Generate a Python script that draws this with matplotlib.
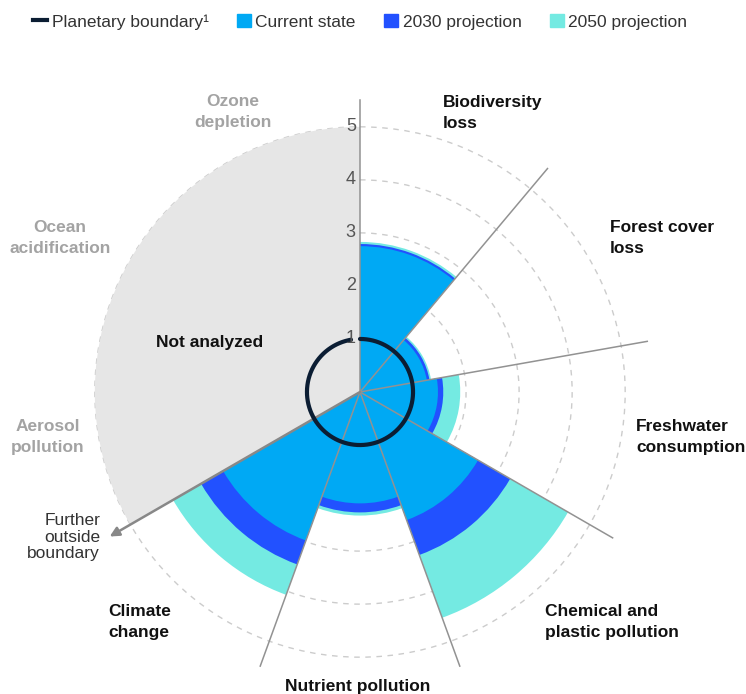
import numpy as np
import matplotlib as mpl
mpl.use('Agg')
import matplotlib.pyplot as plt
from matplotlib.lines import Line2D
from matplotlib.patches import Patch

plt.rcParams['font.family'] = ['Liberation Sans', 'DejaVu Sans']

# boundaries analyzed, clockwise from the top
boundaries = ['Biodiversity loss', 'Forest cover loss', 'Freshwater consumption',
              'Chemical and plastic pollution', 'Nutrient pollution', 'Climate change']
# values relative to planetary boundary (boundary = 1)
current = [2.75, 1.28, 1.47, 2.57, 2.10, 2.98]
proj_2030 = [2.79, 1.33, 1.57, 3.27, 2.27, 3.46]
proj_2050 = [2.83, 1.36, 1.89, 4.53, 2.33, 4.07]
# boundaries not analyzed
not_analyzed = ['Aerosol pollution', 'Ocean acidification', 'Ozone depletion']
not_analyzed_value = 5
boundary_value = 1
r_ticks = [1, 2, 3, 4, 5]

# colours
c_current = '#00a9f4'
c_2030 = '#2251ff'
c_2050 = '#74eae2'
c_boundary = '#0b1d33'
c_grey = '#e6e6e6'

sector = 2 * np.pi / 9
theta = np.arange(len(boundaries)) * sector + sector / 2
theta_na = len(boundaries) * sector + len(not_analyzed) * sector / 2

fig = plt.figure(figsize=(7.46, 6.94), dpi=100)
ax = fig.add_axes([63 / 746, 5 / 694, 594 / 746, 594 / 694], projection='polar')
ax.set_theta_zero_location('N')
ax.set_theta_direction(-1)
ax.set_ylim(0, 5.6)
ax.spines['polar'].set_visible(False)
ax.set_xticks([])
ax.set_yticks(r_ticks)
ax.set_yticklabels([])
ax.tick_params(length=0)
ax.yaxis.grid(True, color='#cccccc', linestyle=(0, (4, 4)), linewidth=1)
ax.xaxis.grid(False)
ax.set_axisbelow(True)

# not analyzed sector
ax.bar(theta_na, not_analyzed_value, width=sector * len(not_analyzed),
       color=c_grey, linewidth=0, zorder=1)
# stacked by drawing the largest first
ax.bar(theta, proj_2050, width=sector, color=c_2050, linewidth=0, zorder=2)
ax.bar(theta, proj_2030, width=sector, color=c_2030, linewidth=0, zorder=3)
ax.bar(theta, current, width=sector, color=c_current, linewidth=0, zorder=4)

# sector separators
for k in range(len(boundaries)):
    ax.plot([k * sector, k * sector], [0, 5.5], color='#929292', lw=1.1, zorder=5)
ax.annotate('', xy=(len(boundaries) * sector, 5.45), xytext=(len(boundaries) * sector, 0),
            arrowprops=dict(arrowstyle='-|>', color='#888888', lw=1.8,
                            mutation_scale=14, shrinkA=0, shrinkB=0), zorder=6)

# planetary boundary circle
tc = np.linspace(0, 2 * np.pi - 0.17, 300)
ax.plot(tc, np.full_like(tc, boundary_value), color=c_boundary, lw=3, zorder=7,
        solid_capstyle='round')

# radial labels
for r in r_ticks:
    ax.annotate(str(r), xy=(0, r), xytext=(-3, 0), textcoords='offset points',
                ha='right', va='center', fontsize=13, color='#555555', zorder=8)


def ftext(x, y, s, **kw):
    kw.setdefault('linespacing', 1.45)
    fig.text(x / 746, 1 - y / 694, s, va='center', **kw)


bold = dict(fontsize=12.5, fontweight='bold', color='#111111')
grey = dict(fontsize=12.5, fontweight='bold', color='#a3a3a3')
ftext(443, 113, 'Biodiversity\nloss', ha='left', **bold)
ftext(610, 238, 'Forest cover\nloss', ha='left', **bold)
ftext(636, 437, 'Freshwater\nconsumption', ha='left', **bold)
ftext(545, 622, 'Chemical and\nplastic pollution', ha='left', **bold)
ftext(358, 686, 'Nutrient pollution', ha='center', **bold)
ftext(108, 622, 'Climate\nchange', ha='left', **bold)
ftext(210, 343, 'Not analyzed', ha='center', **bold)
ftext(233, 112, 'Ozone\ndepletion', ha='center', **grey)
ftext(60, 238, 'Ocean\nacidification', ha='center', **grey)
ftext(48, 437, 'Aerosol\npollution', ha='center', **grey)
ftext(100, 537, 'Further\noutside\nboundary', ha='right', fontsize=12.5,
      color='#333333', linespacing=1.1)

# legend
handles = [Line2D([0], [0], color=c_boundary, lw=3),
           Patch(color=c_current), Patch(color=c_2030), Patch(color=c_2050)]
labels = ['Planetary boundary¹', 'Current state', '2030 projection', '2050 projection']
fig.legend(handles, labels, loc='center', bbox_to_anchor=(0.483, 1 - 22 / 694), ncol=4,
           frameon=False, fontsize=12.5, handlelength=0.8, handleheight=0.8,
           handletextpad=0.25, columnspacing=1.65, labelcolor='#333333')

fig.savefig('out.png', dpi=100)
